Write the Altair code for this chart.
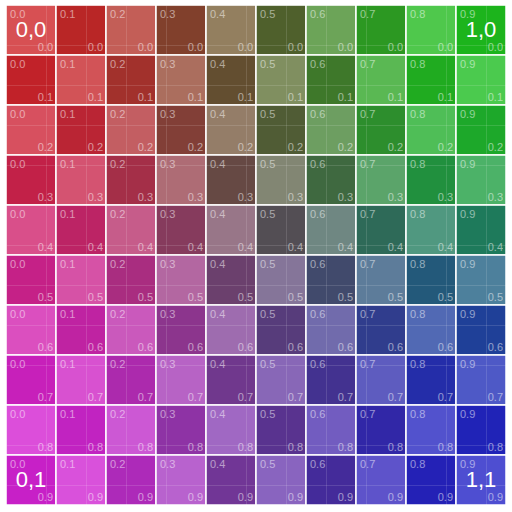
import altair as alt
import pandas as pd

# values shown in the grid
x_values = [0.0, 0.1, 0.2, 0.3, 0.4, 0.5, 0.6, 0.7, 0.8, 0.9]
y_values = [0.0, 0.1, 0.2, 0.3, 0.4, 0.5, 0.6, 0.7, 0.8, 0.9]
x_labels = ["0.0", "0.1", "0.2", "0.3", "0.4", "0.5", "0.6", "0.7", "0.8", "0.9"]
y_labels = ["0.0", "0.1", "0.2", "0.3", "0.4", "0.5", "0.6", "0.7", "0.8", "0.9"]

# corner colours (x, y)
c00 = (205, 36, 40)     # red
c10 = (30, 192, 30)     # green
c01 = (212, 34, 212)    # magenta
c11 = (34, 34, 198)     # blue

corner_text = ["0,0", "1,0", "0,1", "1,1"]
corner_x = [0.05, 0.95, 0.05, 0.95]
corner_y = [0.05, 0.05, 0.95, 0.95]


def mix(a, b, t):
    return tuple(a[k] + (b[k] - a[k]) * t for k in range(3))


def ease(t):
    s = t * t * (3 - 2 * t)
    return 0.5 * s + 0.5 * (s * s * (3 - 2 * s))


def cell_color(i, j):
    u, v = ease(i / 9), ease(j / 9)
    top = mix(c00, c10, u)
    bot = mix(c01, c11, u)
    c = mix(top, bot, v)
    mid = 4 * u * (1 - u)
    gray = sum(c) / 3
    c = mix(c, (gray, gray, gray * 1.05), 0.35 * mid)
    if (i + j) % 2 == 0:
        c = mix(c, (255, 255, 255), 0.2)
    else:
        c = mix(c, (0, 0, 0), 0.06 + 0.12 * mid)
    return "#%02x%02x%02x" % tuple(int(round(max(0, min(255, t)))) for t in c)


rows = []
for i, xv in enumerate(x_values):
    for j, yv in enumerate(y_values):
        rows.append({
            "x0": xv, "x1": xv + 0.1, "y0": yv, "y1": yv + 0.1,
            "xl": x_labels[i], "yl": y_labels[j],
            "fill": cell_color(i, j),
        })
cells = pd.DataFrame(rows)
corners = pd.DataFrame({"t": corner_text, "x": corner_x, "y": corner_y})

grid_vals = [round(k * 0.02, 2) for k in range(51)]
xs = alt.Scale(domain=[0, 1], nice=False, zero=False)
ys = alt.Scale(domain=[0, 1], nice=False, zero=False, reverse=True)
ax = alt.Axis(values=grid_vals, grid=True, gridColor="white", gridOpacity=0.13,
              gridWidth=1, labels=False, ticks=False, domain=False, title=None, zindex=1)

rect = alt.Chart(cells).mark_rect(stroke="white", strokeWidth=1.5).encode(
    x=alt.X("x0:Q", scale=xs, axis=ax),
    x2="x1",
    y=alt.Y("y0:Q", scale=ys, axis=ax),
    y2="y1",
    color=alt.Color("fill:N", scale=None),
)

font = "Liberation Sans"
top_lab = alt.Chart(cells).mark_text(
    align="left", baseline="top", dx=4, dy=4, fontSize=11, font=font,
    color="white", opacity=0.5,
).encode(x=alt.X("x0:Q", scale=xs), y=alt.Y("y0:Q", scale=ys), text="xl:N")

bot_lab = alt.Chart(cells).mark_text(
    align="right", baseline="alphabetic", dx=-3, dy=-4, fontSize=11, font=font,
    color="white", opacity=0.5,
).encode(x=alt.X("x1:Q", scale=xs), y=alt.Y("y1:Q", scale=ys), text="yl:N")

big = alt.Chart(corners).mark_text(
    align="center", baseline="middle", fontSize=22, font=font, color="white",
).encode(x=alt.X("x:Q", scale=xs), y=alt.Y("y:Q", scale=ys), text="t:N")

chart = alt.layer(rect, top_lab, bot_lab, big).properties(
    width=500, height=500,
    autosize=alt.AutoSizeParams(type="none"),
    padding={"left": 6, "top": 5, "right": 6, "bottom": 7},
).configure_view(stroke=None)

chart.save("out.html", embed_options={"renderer": "svg", "actions": False})
